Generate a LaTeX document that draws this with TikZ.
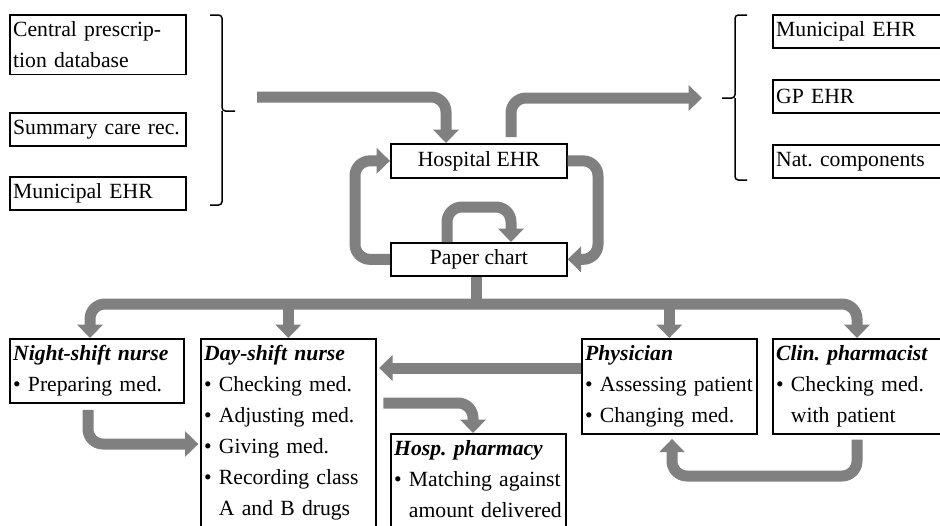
\documentclass[tikz,border=0pt]{standalone}
\usepackage{fontspec}
\setmainfont{Liberation Serif}
\frenchspacing
\usetikzlibrary{arrows.meta}
\tikzset{
  box/.style={draw, line width=1pt, anchor=north west, align=left,
    inner xsep=2pt, inner ysep=4pt, minimum height=19.8pt,
    font=\fontsize{13}{18.6}\selectfont},
  flow/.style={draw=gray, line width=6.6pt, rounded corners=9pt,
    -{Triangle[width=15pt,length=8pt]}},
  trunk/.style={draw=gray, line width=6.6pt},
  brack/.style={line width=0.9pt, rounded corners=2pt}
}
\newcommand{\itm}{\textbullet\ }
\newcommand{\ind}{\phantom{\textbullet\ }}

\begin{document}
\begin{tikzpicture}[x=0.6pt,y=-0.6pt]
\useasboundingbox (0,0) rectangle (940,525);
% sources
\node[box,text width=101.6pt] (cpd) at (9,14) {Central prescrip-\\tion database};
\node[box,text width=101.6pt] (scr) at (9,112) {Summary care rec.};
\node[box,text width=101.6pt] (lmun) at (9,176) {Municipal EHR};
% receivers
\node[box,text width=116pt] (rmun) at (772,14) {Municipal EHR};
\node[box,text width=116pt] (gp) at (772,79) {GP EHR};
\node[box,text width=116pt] (nat) at (772,144) {Nat. components};
% hospital records
\node[box,align=center,minimum width=105.6pt,minimum height=20.4pt] (hosp) at (390,143) {Hospital EHR};
\node[box,align=center,minimum width=105.6pt,minimum height=18.6pt] (paper) at (390,242) {Paper chart};
% actors
\node[box,text width=100.4pt] (night) at (9,338) {\textbf{\textit{Night-shift nurse}}\\\itm Preparing med.};
\node[box,text width=101pt] (day) at (200,338) {\textbf{\textit{Day-shift nurse}}\\\itm Checking med.\\\itm Adjusting med.\\\itm Giving med.\\\itm Recording class\\\ind A and B drugs\rule[-10pt]{0pt}{10pt}};
\node[box,text width=101pt] (hph) at (390,433) {\textbf{\textit{Hosp. pharmacy}}\\\itm Matching against\\\ind amount delivered\rule[-10pt]{0pt}{10pt}};
\node[box,text width=101pt] (phys) at (581,338) {\textbf{\textit{Physician}}\\\itm Assessing patient\\\itm Changing med.};
\node[box,text width=116pt] (clin) at (772,338) {\textbf{\textit{Clin. pharmacist}}\\\itm Checking med.\\\ind with patient};

% brackets
\draw[brack] (210,15) -- (222,15) -- (222,111) -- (235,111);
\draw[brack] (222,111) -- (222,205) -- (210,205);
\draw[brack] (747,15) -- (735,15) -- (735,98) -- (722,98);
\draw[brack] (735,98) -- (735,180) -- (747,180);

% in and out of the hospital EHR
\coordinate (lin) at (257,97);
\coordinate (rout) at (702,98);
\draw[flow] (lin) -| (446,0 |- hosp.north);
\draw[flow,shorten <=3.6pt] (511,0 |- hosp.north) |- (rout);

% loops between EHR and chart
\draw[flow] (paper.west) -| (355,0 |- hosp.west) -- (hosp.west);
\draw[flow] (hosp.east) -| (598,0 |- paper.east) -- (paper.east);
\draw[flow] (447,0 |- paper.north) |- (479,207) -| (511,0 |- paper.north);

% chart to the actors
\coordinate (hub) at (476,304);
\draw[trunk] (476,0 |- paper.south) -- (hub);
\draw[flow] (hub) -| (90,0 |- night.north);
\draw[flow] (hub) -| (857,0 |- clin.north);
\draw[flow] (day.north |- hub) -- (day.north);
\draw[flow] (phys.north |- hub) -- (phys.north);

% between the actors
\draw[flow,shorten >=1.5pt] (phys.west |- 0,368) -- (day.east |- 0,368);
\draw[flow,shorten <=3.6pt,shorten >=1pt] (88,0 |- night.south) |- (day.west |- 0,444);
\draw[flow,shorten <=4pt] (day.east |- 0,403) -| (473,0 |- hph.north);
\draw[flow,shorten <=3pt,shorten >=2.5pt] (857,0 |- clin.south) |- (672,476) -- (672,0 |- phys.south);
\end{tikzpicture}
\end{document}
